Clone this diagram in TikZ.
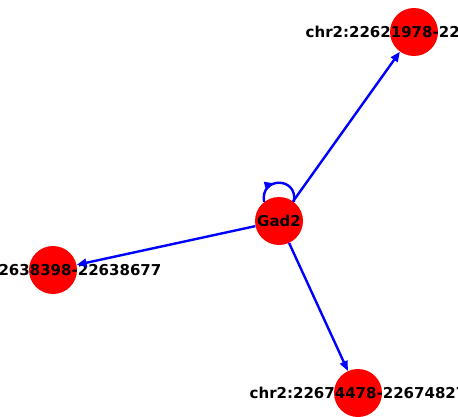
\documentclass[tikz,border=0pt]{standalone}
\usepackage{fontspec}
\setmainfont{DejaVu Sans}
\usetikzlibrary{arrows.meta,decorations.markings}
\definecolor{nodered}{HTML}{FF0000}
\definecolor{edgeblue}{HTML}{0000FF}
\tikzset{
  gene/.style={circle, fill=nodered, draw=none, minimum size=48pt, inner sep=0pt},
  lbl/.style={font=\fontsize{15}{18}\selectfont\bfseries, text=black, inner sep=0pt},
  edge/.style={-{Triangle[length=10pt, width=8pt]}, line width=2.4pt, color=edgeblue},
  selfloop/.style={line width=2.4pt, color=edgeblue, postaction={decorate},
    decoration={markings, mark=at position 0.42 with {\arrow{Triangle[length=10pt, width=8pt]}}}},
}
\begin{document}
\begin{tikzpicture}[x=1pt, y=1pt]
  \useasboundingbox (0,0) rectangle (458,416);
  % genes
  \node[gene, label={[lbl]center:Gad2}] (gad) at (279,195) {};
  \node[gene, label={[lbl]center:chr2:22621978-22622257}] (top) at (414,384) {};
  \node[gene, label={[lbl]center:chr2:22638398-22638677}] (left) at (53,146) {};
  \node[gene, label={[lbl]center:chr2:22674478-22674827}] (bot) at (358,23) {};
  % links
  \draw[edge] (gad) -- (top);
  \draw[edge] (gad) -- (left);
  \draw[edge] (gad) -- (bot);
  \draw[selfloop] (gad.128) .. controls +(100:26) and +(80:26) .. (gad.52);
\end{tikzpicture}
\end{document}
